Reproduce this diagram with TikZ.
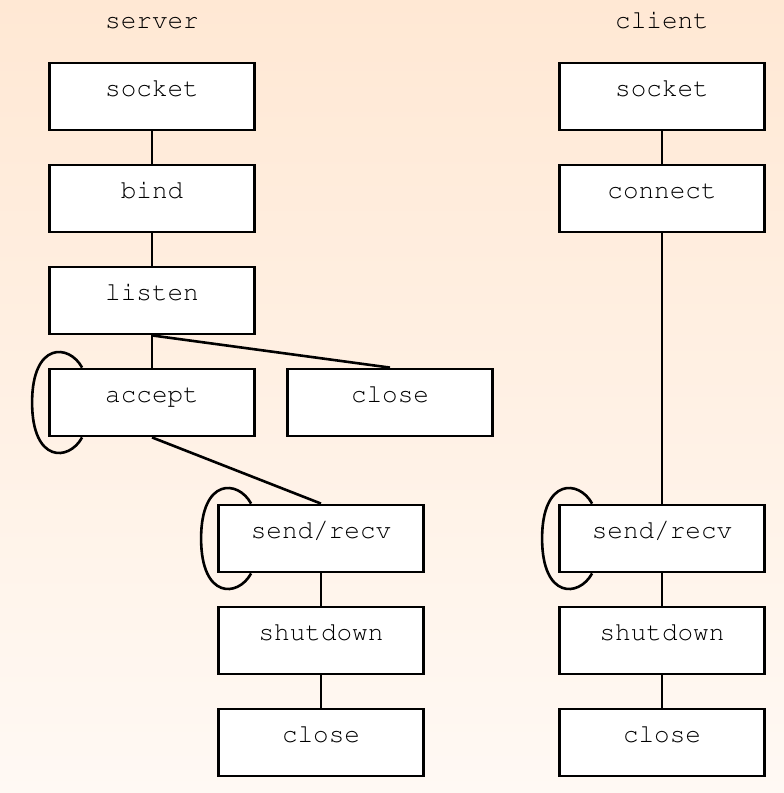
\documentclass[tikz,border=0pt]{standalone}
\usepackage[T1]{fontenc}
\usepackage{courier}
\usetikzlibrary{calc}
\definecolor{bgtop}{HTML}{FFE8D4}
\definecolor{bgbot}{HTML}{FFF9F4}
\newcommand{\selfloop}[1]{%
  \draw[edge] ($(#1.north west)+(34,0)$) .. controls ($(#1.north west)+(21,-24)$) and ($(#1.north west)+(-16,-26)$) .. ($(#1.west)+(-16,0)$)
    .. controls ($(#1.south west)+(-16,26)$) and ($(#1.south west)+(21,24)$) .. ($(#1.south west)+(34,0)$);}
\begin{document}
\begin{tikzpicture}[x=1pt,y=-1pt,
  box/.style={draw=black, fill=white, line width=2.8pt, minimum width=205pt, minimum height=67pt,
    inner sep=0pt, text height=11pt, text depth=11pt, font=\ttfamily\fontsize{26}{30}\selectfont},
  title/.style={anchor=base, font=\ttfamily\fontsize{26}{30}\selectfont},
  edge/.style={draw=black, line width=2.6pt}]
\shade[top color=bgtop, bottom color=bgbot] (0,0) rectangle (784,793);
\useasboundingbox (0,0) rectangle (784,793);
\node[title] (tserver) at (152,28) {server};
\node[title] (tclient) at (662,28) {client};
% server column
\node[box] (ssocket) at (152,96.5) {socket};
\node[box] (sbind) at (152,198.5) {bind};
\node[box] (slisten) at (152,300.5) {listen};
\node[box] (saccept) at (152,402.5) {accept};
\node[box] (sclose1) at (390,402.5) {close};
\node[box] (ssend) at (321,538.5) {send/recv};
\node[box] (sshut) at (321,640.5) {shutdown};
\node[box] (sclose2) at (321,742.5) {close};
% client column
\node[box] (csocket) at (662,96.5) {socket};
\node[box] (cconnect) at (662,198.5) {connect};
\node[box] (csend) at (662,538.5) {send/recv};
\node[box] (cshut) at (662,640.5) {shutdown};
\node[box] (cclose) at (662,742.5) {close};
% edges
\draw[edge] (ssocket.south) -- (sbind.north);
\draw[edge] (sbind.south) -- (slisten.north);
\draw[edge] (slisten.south) -- (saccept.north);
\draw[edge] (slisten.south) -- (sclose1.north);
\draw[edge] (saccept.south) -- (ssend.north);
\draw[edge] (ssend.south) -- (sshut.north);
\draw[edge] (sshut.south) -- (sclose2.north);
\draw[edge] (csocket.south) -- (cconnect.north);
\draw[edge] (cconnect.south) -- (csend.north);
\draw[edge] (csend.south) -- (cshut.north);
\draw[edge] (cshut.south) -- (cclose.north);
\selfloop{saccept}
\selfloop{ssend}
\selfloop{csend}
\end{tikzpicture}
\end{document}
